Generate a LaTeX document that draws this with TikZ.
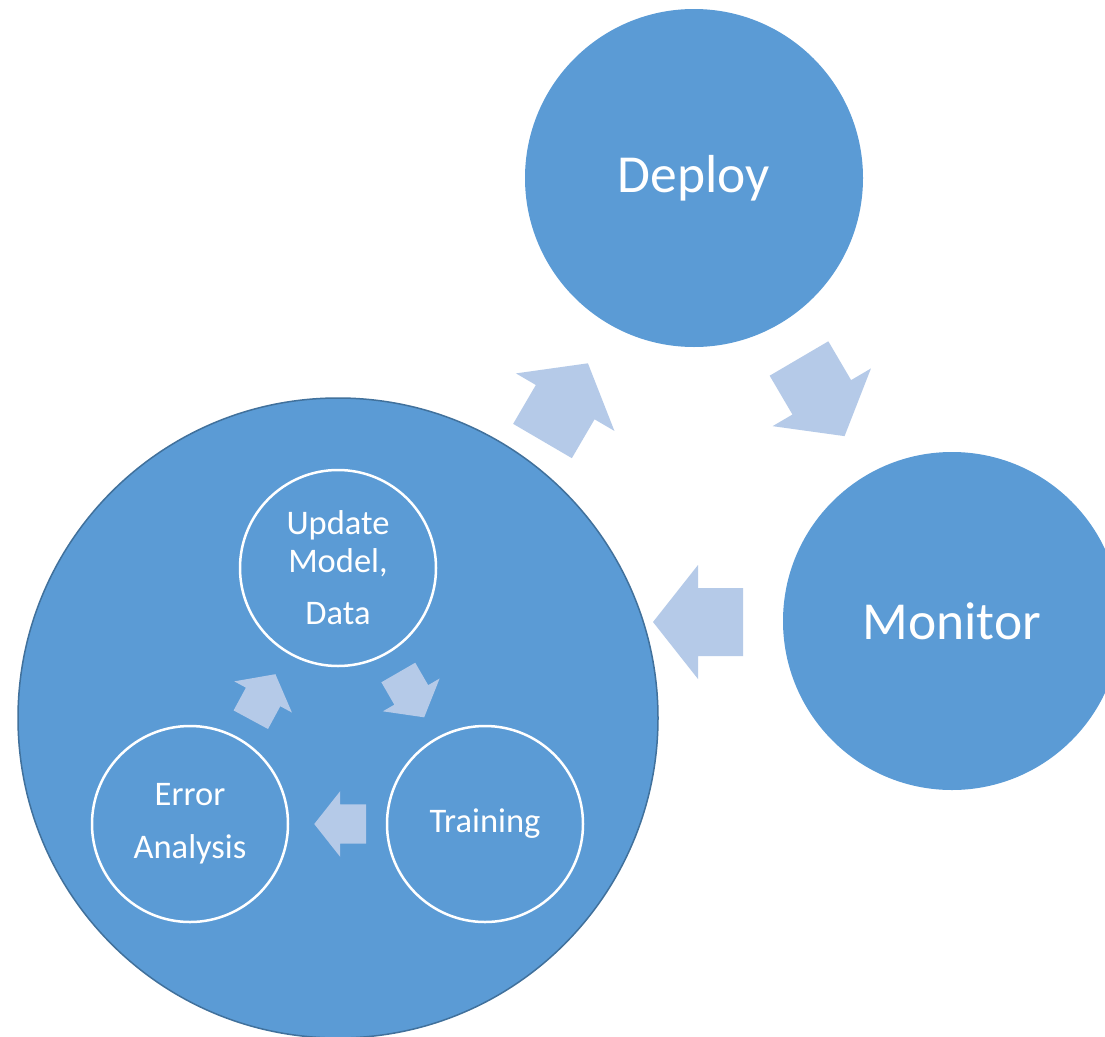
\documentclass[tikz,border=0pt]{standalone}
\usepackage{fontspec}
\setmainfont{Carlito}
\definecolor{cblue}{HTML}{5B9BD5}
\definecolor{cedge}{HTML}{41719C}
\definecolor{carrow}{HTML}{B5CAE8}
\tikzset{
  bigcirc/.style={circle, fill=cblue, draw=cedge, line width=1.5pt, minimum size=640pt, inner sep=0pt},
  outcirc/.style={circle, fill=cblue, minimum size=338pt, inner sep=0pt, text=white, font=\fontsize{53.5}{62}\selectfont},
  incirc/.style={circle, draw=white, line width=2.5pt, minimum size=196pt, inner sep=0pt, text=white, align=center},
  arrowfill/.style={fill=carrow}
}
\newcommand{\blockarr}[3]{%
  \fill[arrowfill, shift={#1}, rotate=#2, scale=#3]
    (0,-34) -- (45,-34) -- (45,-57) -- (90,0) -- (45,57) -- (45,34) -- (0,34) -- cycle;}
\begin{document}
\begin{tikzpicture}[x=1pt, y=-1pt]
\useasboundingbox (0,0) rectangle (1105,1036);
\clip (0,0) rectangle (1105,1036);
\fill[white] (0,0) rectangle (1105,1036);
% outer cycle
\node[bigcirc] (big) at (338,718) {};
\node[outcirc] (deploy) at (694,178) {Deploy};
\node[outcirc] (monitor) at (952,621) {Monitor};
% inner cycle
\node[incirc, font=\fontsize{34.5}{38}\selectfont] (update) at (338,568) {Update\\Model,\\[14pt]Data};
\node[incirc, font=\fontsize{34.5}{40}\selectfont] (training) at (485,824) {Training};
\node[incirc, font=\fontsize{34.5}{53}\selectfont] (error) at (190,824) {Error\\Analysis};
% outer arrows
\blockarr{(542.5,441)}{59.7}{1}
\blockarr{(799,358.5)}{-59.6}{1}
\blockarr{(743,622)}{180}{1}
% inner arrows
\blockarr{(250.8,719.7)}{61.6}{0.575}
\blockarr{(398.3,672.5)}{-60}{0.575}
\blockarr{(366,824)}{180}{0.575}
\end{tikzpicture}
\end{document}
